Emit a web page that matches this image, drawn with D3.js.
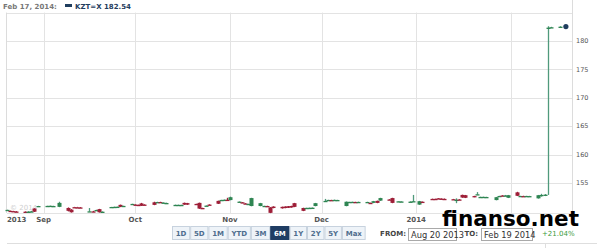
<!DOCTYPE html>
<html>
<head>
<meta charset="utf-8">
<script src="https://cdn.jsdelivr.net/npm/d3@7"></script>
<style>
body { margin: 0; background: #fff; }
svg { display: block; }
text { font-family: "DejaVu Sans", Verdana, sans-serif; }
</style>
</head>
<body>
<svg id="chart"></svg>
<script>
// daily candles: date, open, high, low, close (KZT per USD)
var candles = [
    ["2013-08-20", 150.25, 150.30, 150.20, 150.27],
    ["2013-08-21", 150.10, 150.15, 150.00, 150.05],
    ["2013-08-22", 150.05, 150.10, 149.95, 149.98],
    ["2013-08-23", 149.98, 150.05, 149.90, 149.93],
    ["2013-08-26", 149.95, 150.00, 149.88, 149.92],
    ["2013-08-27", 149.92, 150.05, 149.85, 149.95],
    ["2013-08-28", 149.95, 150.10, 149.90, 150.00],
    ["2013-08-29", 150.50, 150.55, 149.90, 149.95],
    ["2013-08-30", 150.90, 150.98, 150.85, 150.95],
    ["2013-09-02", 150.95, 151.00, 150.90, 150.97],
    ["2013-09-03", 150.97, 151.02, 150.90, 150.99],
    ["2013-09-04", 150.90, 151.00, 150.85, 150.95],
    ["2013-09-06", 150.80, 151.70, 150.75, 151.50],
    ["2013-09-09", 150.60, 150.70, 150.00, 150.10],
    ["2013-09-10", 150.30, 150.40, 149.80, 149.85],
    ["2013-09-11", 150.75, 150.80, 150.70, 150.72],
    ["2013-09-12", 150.72, 150.80, 150.65, 150.70],
    ["2013-09-13", 150.70, 150.75, 150.60, 150.68],
    ["2013-09-16", 150.00, 150.60, 149.95, 150.02],
    ["2013-09-17", 150.00, 150.10, 149.90, 149.95],
    ["2013-09-18", 150.20, 150.30, 150.10, 150.25],
    ["2013-09-19", 150.40, 150.45, 149.80, 149.85],
    ["2013-09-20", 149.90, 150.00, 149.85, 149.95],
    ["2013-09-23", 150.75, 150.80, 150.70, 150.78],
    ["2013-09-24", 150.78, 150.85, 150.70, 150.80],
    ["2013-09-25", 150.80, 150.85, 150.72, 150.82],
    ["2013-09-26", 151.15, 151.20, 150.75, 150.80],
    ["2013-09-27", 150.95, 151.00, 150.90, 150.97],
    ["2013-09-30", 151.30, 151.35, 151.25, 151.32],
    ["2013-10-01", 151.20, 151.25, 151.10, 151.15],
    ["2013-10-02", 151.15, 151.20, 151.05, 151.10],
    ["2013-10-03", 151.40, 151.50, 150.95, 151.00],
    ["2013-10-04", 151.20, 151.25, 151.10, 151.15],
    ["2013-10-07", 151.60, 151.70, 151.10, 151.15],
    ["2013-10-08", 151.60, 151.70, 151.55, 151.65],
    ["2013-10-09", 151.65, 151.70, 151.55, 151.60],
    ["2013-10-10", 151.50, 151.60, 151.45, 151.55],
    ["2013-10-11", 151.45, 151.55, 151.40, 151.48],
    ["2013-10-14", 151.10, 151.20, 151.05, 151.15],
    ["2013-10-15", 151.12, 151.20, 151.05, 151.15],
    ["2013-10-16", 151.13, 151.18, 151.08, 151.14],
    ["2013-10-17", 151.50, 151.55, 151.15, 151.20],
    ["2013-10-18", 151.45, 151.50, 151.15, 151.20],
    ["2013-10-21", 151.32, 151.35, 151.25, 151.28],
    ["2013-10-22", 151.50, 151.55, 150.45, 150.50],
    ["2013-10-23", 150.60, 150.65, 150.50, 150.55],
    ["2013-10-24", 151.00, 151.05, 150.95, 151.02],
    ["2013-10-25", 151.20, 151.25, 151.10, 151.15],
    ["2013-10-28", 151.85, 151.90, 151.30, 151.35],
    ["2013-10-29", 152.00, 152.05, 151.95, 152.02],
    ["2013-10-30", 152.02, 152.10, 151.95, 152.05],
    ["2013-10-31", 152.05, 152.40, 151.90, 152.00],
    ["2013-11-01", 152.00, 152.60, 151.95, 152.50],
    ["2013-11-04", 151.70, 151.75, 151.60, 151.72],
    ["2013-11-05", 151.60, 151.65, 151.50, 151.55],
    ["2013-11-06", 151.40, 151.45, 151.30, 151.35],
    ["2013-11-07", 151.30, 151.35, 151.20, 151.32],
    ["2013-11-08", 150.95, 152.40, 150.90, 152.35],
    ["2013-11-11", 150.95, 151.50, 150.90, 151.45],
    ["2013-11-12", 150.95, 151.00, 150.90, 150.97],
    ["2013-11-13", 150.95, 151.00, 150.88, 150.92],
    ["2013-11-14", 150.70, 150.75, 149.70, 149.75],
    ["2013-11-15", 150.85, 150.90, 150.55, 150.60],
    ["2013-11-18", 150.80, 150.85, 150.50, 150.55],
    ["2013-11-19", 150.85, 150.90, 150.55, 150.60],
    ["2013-11-20", 150.90, 150.95, 150.60, 150.65],
    ["2013-11-21", 150.95, 151.00, 150.65, 150.70],
    ["2013-11-22", 151.45, 151.50, 150.75, 150.80],
    ["2013-11-25", 150.60, 150.65, 150.05, 150.10],
    ["2013-11-26", 150.60, 150.65, 150.55, 150.62],
    ["2013-11-27", 150.60, 150.68, 150.55, 150.63],
    ["2013-11-28", 150.62, 150.70, 150.55, 150.65],
    ["2013-11-29", 150.95, 151.50, 150.90, 151.45],
    ["2013-12-02", 151.80, 152.20, 151.70, 151.85],
    ["2013-12-03", 152.00, 152.05, 151.95, 152.02],
    ["2013-12-04", 152.00, 152.05, 151.95, 151.98],
    ["2013-12-05", 152.02, 152.08, 151.97, 152.03],
    ["2013-12-06", 152.00, 152.05, 151.95, 152.01],
    ["2013-12-09", 150.95, 151.75, 150.90, 151.70],
    ["2013-12-10", 151.65, 151.70, 151.60, 151.67],
    ["2013-12-11", 151.65, 151.72, 151.60, 151.68],
    ["2013-12-12", 151.66, 151.70, 151.60, 151.64],
    ["2013-12-13", 151.65, 151.72, 151.58, 151.67],
    ["2013-12-16", 151.64, 151.70, 151.58, 151.66],
    ["2013-12-17", 151.50, 151.55, 151.45, 151.47],
    ["2013-12-18", 151.50, 151.85, 151.45, 151.80],
    ["2013-12-19", 151.85, 151.90, 151.45, 151.50],
    ["2013-12-20", 151.90, 152.40, 151.85, 152.35],
    ["2013-12-23", 152.10, 152.15, 152.00, 152.05],
    ["2013-12-24", 152.35, 152.40, 151.45, 151.50],
    ["2013-12-26", 151.75, 151.80, 151.70, 151.78],
    ["2013-12-27", 151.72, 151.80, 151.68, 151.75],
    ["2013-12-30", 151.70, 151.78, 151.65, 151.72],
    ["2013-12-31", 151.75, 152.90, 151.70, 151.80],
    ["2014-01-02", 151.20, 151.85, 151.15, 151.80],
    ["2014-01-03", 151.70, 151.75, 151.60, 151.65],
    ["2014-01-06", 152.20, 152.25, 152.10, 152.15],
    ["2014-01-07", 152.20, 152.25, 152.10, 152.17],
    ["2014-01-08", 152.30, 152.35, 152.20, 152.28],
    ["2014-01-09", 152.25, 152.30, 152.15, 152.22],
    ["2014-01-10", 152.20, 152.28, 152.10, 152.18],
    ["2014-01-13", 152.15, 152.20, 152.05, 152.12],
    ["2014-01-14", 152.00, 152.30, 151.45, 152.05],
    ["2014-01-15", 152.10, 152.15, 152.00, 152.08],
    ["2014-01-16", 152.90, 152.95, 152.40, 152.45],
    ["2014-01-17", 152.85, 152.90, 152.35, 152.40],
    ["2014-01-20", 152.70, 152.75, 152.50, 152.55],
    ["2014-01-21", 153.00, 153.40, 152.95, 153.02],
    ["2014-01-22", 152.50, 152.60, 152.45, 152.55],
    ["2014-01-23", 152.52, 152.60, 152.45, 152.56],
    ["2014-01-24", 152.50, 152.58, 152.45, 152.54],
    ["2014-01-27", 152.00, 152.55, 151.95, 152.50],
    ["2014-01-28", 152.70, 152.75, 152.60, 152.72],
    ["2014-01-29", 152.80, 152.85, 152.70, 152.78],
    ["2014-01-30", 152.75, 152.90, 152.70, 152.80],
    ["2014-01-31", 152.40, 152.90, 152.35, 152.85],
    ["2014-02-03", 153.35, 153.45, 152.70, 152.75],
    ["2014-02-04", 152.70, 152.75, 152.60, 152.72],
    ["2014-02-05", 152.70, 152.76, 152.62, 152.69],
    ["2014-02-06", 152.70, 152.75, 152.62, 152.72],
    ["2014-02-07", 152.68, 152.74, 152.60, 152.70],
    ["2014-02-10", 152.30, 152.90, 152.25, 152.85],
    ["2014-02-11", 152.85, 153.10, 152.60, 152.90],
    ["2014-02-12", 152.90, 153.05, 152.70, 152.95],
    ["2014-02-13", 182.30, 182.60, 152.90, 182.35],
    ["2014-02-14", 182.40, 182.50, 182.30, 182.42],
    ["2014-02-17", 182.50, 182.60, 182.40, 182.52]
];

var lastDate = "2014-02-19",
    lastValue = 182.54;

var headerDate = "Feb 17, 2014:",
    headerSymbol = "KZT=X";

var yTicks = [155, 160, 165, 170, 175, 180],
    yGrid = [155, 160, 165, 170, 175, 180, 185];

var monthTicks = ["2013-09-01", "2013-10-01", "2013-11-01", "2013-12-01", "2014-01-01", "2014-02-01"],
    monthLabels = ["Sep", "Oct", "Nov", "Dec", "2014", ""];

var startLabel = "2013";

var rangeButtons = ["1D", "5D", "1M", "YTD", "3M", "6M", "1Y", "2Y", "5Y", "Max"],
    activeRange = "6M";

var fromText = "Aug 20 2013",
    toText = "Feb 19 2014",
    changeText = "+21.04%";

var width = 597,
    height = 248,
    plot = { left: 7, right: 572, top: 12.6, bottom: 213 };

var parse = d3.timeParse("%Y-%m-%d");

var x = d3.scaleTime()
    .domain([parse("2013-08-20"), parse("2014-02-21")])
    .range([plot.left, plot.right]);

var y = d3.scaleLinear()
    .domain([149.72, 185])
    .range([plot.bottom, plot.top]);

var svg = d3.select("#chart")
    .attr("width", width)
    .attr("height", height);

// grid
svg.append("g")
    .selectAll("line")
    .data(yGrid)
    .enter().append("line")
    .attr("x1", plot.left)
    .attr("x2", plot.right + 1)
    .attr("y1", function(d) { return Math.round(y(d)) + 0.5; })
    .attr("y2", function(d) { return Math.round(y(d)) + 0.5; })
    .attr("stroke", "#e3e3e3");

svg.append("g")
    .selectAll("line")
    .data(monthTicks)
    .enter().append("line")
    .attr("x1", function(d) { return Math.round(x(parse(d))) + 0.5; })
    .attr("x2", function(d) { return Math.round(x(parse(d))) + 0.5; })
    .attr("y1", plot.top)
    .attr("y2", plot.bottom)
    .attr("stroke", "#e3e3e3");

// borders
svg.append("line")
    .attr("x1", plot.left - 0.5).attr("x2", plot.left - 0.5)
    .attr("y1", plot.top).attr("y2", plot.bottom)
    .attr("stroke", "#dcdcdc");

svg.append("line")
    .attr("x1", plot.right + 0.5).attr("x2", plot.right + 0.5)
    .attr("y1", 0).attr("y2", plot.bottom)
    .attr("stroke", "#dcdcdc");

svg.append("line")
    .attr("x1", plot.left).attr("x2", plot.right)
    .attr("y1", plot.bottom + 0.5).attr("y2", plot.bottom + 0.5)
    .attr("stroke", "#e3e3e3");

// faint copyright
svg.append("text")
    .attr("x", 10)
    .attr("y", 210)
    .attr("font-size", 7)
    .attr("fill", "#cfcfcf")
    .text("\u00a9 2014");

// y axis labels
svg.append("g")
    .selectAll("text")
    .data(yTicks)
    .enter().append("text")
    .attr("x", 576)
    .attr("y", function(d) { return y(d); })
    .attr("dy", "0.35em")
    .attr("font-size", 6.5)
    .attr("fill", "#555")
    .text(function(d) { return d; });

// x axis labels
svg.append("text")
    .attr("x", plot.left)
    .attr("y", 222)
    .attr("font-size", 7)
    .attr("font-weight", "bold")
    .attr("fill", "#555")
    .text(startLabel);

svg.append("g")
    .selectAll("text")
    .data(monthTicks)
    .enter().append("text")
    .attr("x", function(d) { return x(parse(d)); })
    .attr("y", 222)
    .attr("text-anchor", "middle")
    .attr("font-size", 7)
    .attr("font-weight", "bold")
    .attr("fill", "#555")
    .text(function(d, i) { return monthLabels[i]; });

// candles
var up = "#2f8552", down = "#9e1f38";

var candle = svg.append("g")
    .selectAll("g")
    .data(candles)
    .enter().append("g")
    .attr("transform", function(d) {
        return "translate(" + Math.round(x(parse(d[0]))) + ",0)";
    });

candle.append("line")
    .attr("x1", 0.5).attr("x2", 0.5)
    .attr("y1", function(d) { return y(d[2]); })
    .attr("y2", function(d) { return y(d[3]); })
    .attr("stroke", function(d) { return d[4] >= d[1] ? "#4f9a7c" : down; })
    .attr("stroke-width", 1.3);

candle.append("rect")
    .attr("x", -1.5)
    .attr("width", 4)
    .attr("y", function(d) { return y(Math.max(d[1], d[4])); })
    .attr("height", function(d) {
        return Math.max(1.3, Math.abs(y(d[1]) - y(d[4])));
    })
    .attr("fill", function(d) { return d[4] >= d[1] ? up : down; });

// last value dot
svg.append("circle")
    .attr("cx", x(parse(lastDate)))
    .attr("cy", y(lastValue))
    .attr("r", 2.6)
    .attr("fill", "#1f3d5e");

// header
svg.append("text")
    .attr("x", 3)
    .attr("y", 9)
    .attr("font-size", 7)
    .attr("font-weight", "bold")
    .attr("fill", "#777")
    .text(headerDate);

svg.append("rect")
    .attr("x", 65)
    .attr("y", 4)
    .attr("width", 7)
    .attr("height", 3)
    .attr("fill", "#1f3d5e");

svg.append("text")
    .attr("x", 75)
    .attr("y", 9)
    .attr("font-size", 7)
    .attr("font-weight", "bold")
    .attr("fill", "#1f3d5e")
    .text(headerSymbol + " " + lastValue.toFixed(2));

// range buttons
var bx = 172;
var btn = svg.append("g").attr("transform", "translate(0,226)");
rangeButtons.forEach(function(label) {
    var g = btn.append("g");
    var t = g.append("text")
        .attr("y", 9.5)
        .attr("font-size", 7)
        .attr("font-weight", "bold")
        .attr("text-anchor", "middle")
        .attr("fill", label === activeRange ? "#fff" : "#4e6d8e")
        .text(label);
    var w = t.node().getComputedTextLength() + 7.5;
    g.insert("rect", "text")
        .attr("x", bx + 0.5)
        .attr("y", 0.5)
        .attr("width", w - 1)
        .attr("height", 13)
        .attr("fill", label === activeRange ? "#1f3d63" : "#eef3f8")
        .attr("stroke", label === activeRange ? "#1f3d63" : "#c7d2de");
    t.attr("x", bx + w / 2);
    bx += w;
});

// from / to
svg.append("text")
    .attr("x", 406)
    .attr("y", 236)
    .attr("text-anchor", "end")
    .attr("font-size", 7)
    .attr("font-weight", "bold")
    .attr("fill", "#444")
    .text("FROM:");

svg.append("rect")
    .attr("x", 408.5).attr("y", 228.5)
    .attr("width", 48).attr("height", 12)
    .attr("fill", "#fff")
    .attr("stroke", "#a9a9a9");

svg.append("text")
    .attr("x", 411)
    .attr("y", 237.5)
    .attr("font-family", "Liberation Sans, Arial, sans-serif")
    .attr("font-size", 8.3)
    .attr("fill", "#333")
    .text(fromText);

svg.append("text")
    .attr("x", 478)
    .attr("y", 236)
    .attr("text-anchor", "end")
    .attr("font-size", 7)
    .attr("font-weight", "bold")
    .attr("fill", "#444")
    .text("TO:");

svg.append("rect")
    .attr("x", 481.5).attr("y", 228.5)
    .attr("width", 51).attr("height", 12)
    .attr("fill", "#fff")
    .attr("stroke", "#a9a9a9");

svg.append("text")
    .attr("x", 484)
    .attr("y", 237.5)
    .attr("font-family", "Liberation Sans, Arial, sans-serif")
    .attr("font-size", 8.3)
    .attr("fill", "#333")
    .text(toText);

svg.append("text")
    .attr("x", 542)
    .attr("y", 236)
    .attr("font-size", 7)
    .attr("fill", "#3a9a3a")
    .text(changeText);

// bottom rule
svg.append("line")
    .attr("x1", plot.left).attr("x2", width)
    .attr("y1", 243.5).attr("y2", 243.5)
    .attr("stroke", "#dedede");

svg.append("line")
    .attr("x1", 545.5).attr("x2", 545.5)
    .attr("y1", 243).attr("y2", height)
    .attr("stroke", "#dedede");

// watermark
svg.append("text")
    .attr("x", 442)
    .attr("y", 226)
    .attr("font-size", 21.5)
    .attr("font-weight", "bold")
    .attr("fill", "#000")
    .text("finanso.net");
</script>
</body>
</html>
